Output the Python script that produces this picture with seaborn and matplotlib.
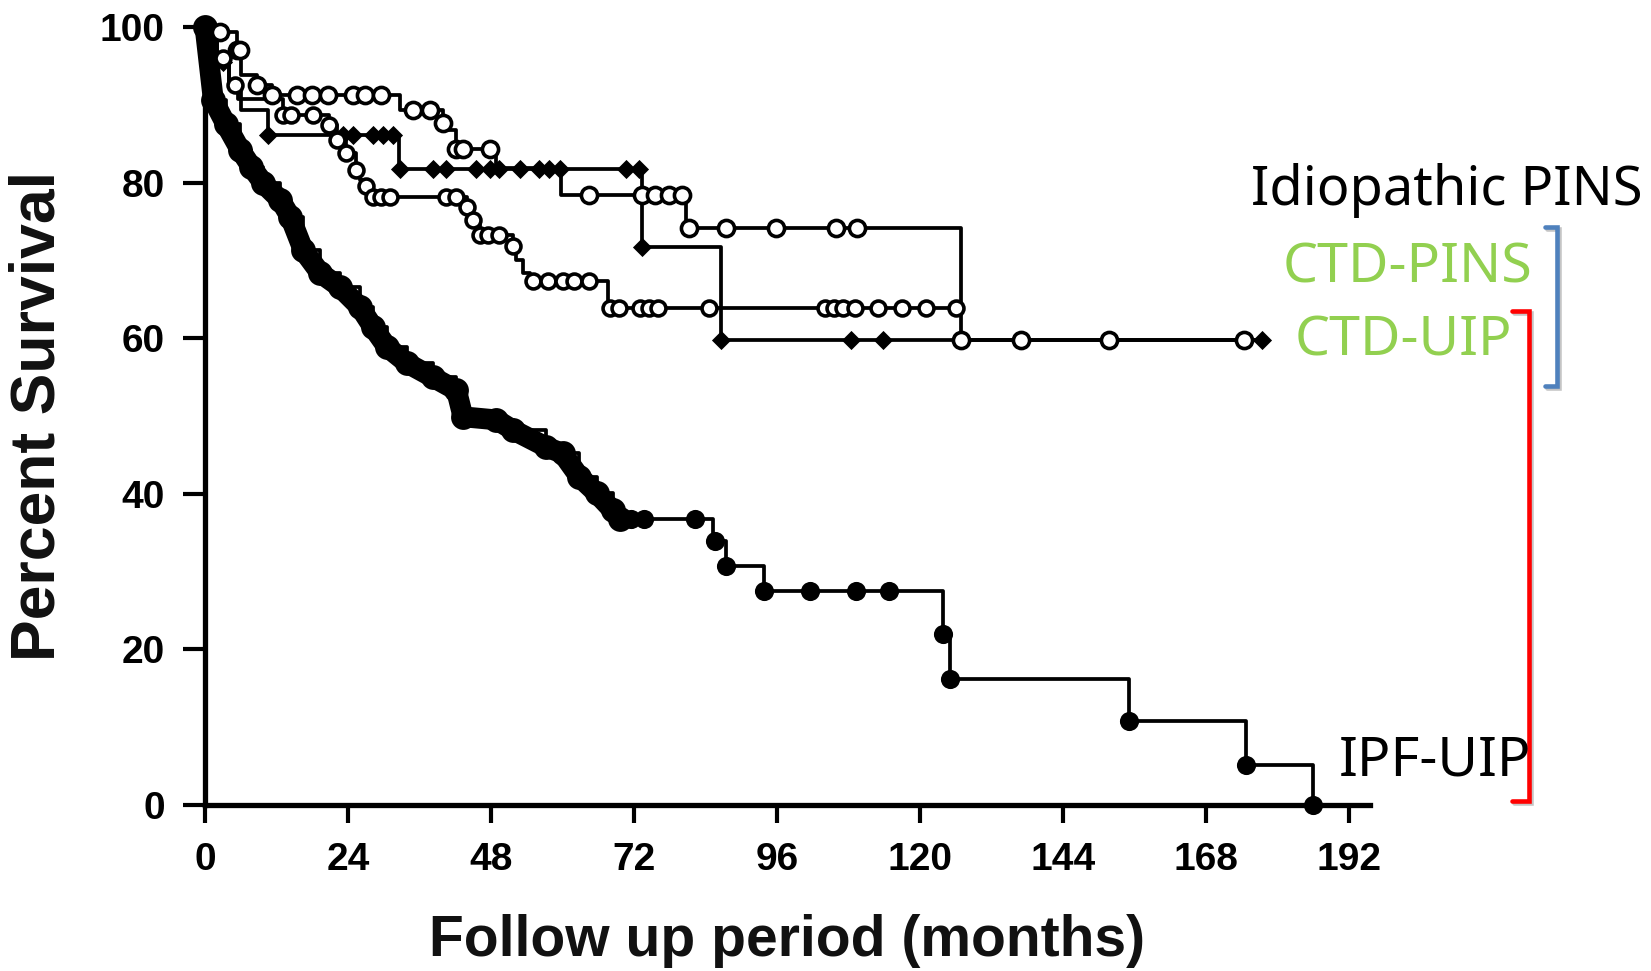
import numpy as np
import pandas as pd
import matplotlib
matplotlib.use("Agg")
import matplotlib.pyplot as plt
from matplotlib.lines import Line2D
import matplotlib.patheffects as pe
import seaborn as sns

# ---------------- data ----------------
x_ticks = [0, 24, 48, 72, 96, 120, 144, 168, 192]
y_ticks = [0, 20, 40, 60, 80, 100]

labels = ["Idiopathic PINS", "CTD-PINS", "CTD-UIP", "IPF-UIP"]

# IPF-UIP (thick curve, filled dots)
ipf_time = [0, 1.4, 3.5, 5.9, 7.8, 9.8, 12.6, 14.3, 16.5, 19.3, 22.6, 26, 28.2, 30.5,
            33.9, 38.2, 42.2, 43.3, 48.9, 51.7, 57.3, 60, 62.8, 65.7, 68.4, 69.6,
            85.2, 87.4, 93.8, 123.9, 125.1, 155.1, 174.7, 185.9]
ipf_surv = [100, 90.6, 87.5, 84.2, 82, 79.9, 77.8, 75.6, 71.3, 68.4, 66.6, 64, 61.4, 58.9,
            56.8, 55, 53.3, 49.9, 49.5, 48.2, 46, 45.2, 42.2, 40.1, 37.9, 36.8,
            33.9, 30.7, 27.5, 22.0, 16.2, 10.8, 5.1, 0]
ipf_censor = [71.5, 73.6, 82.2, 85.6, 87.4, 93.8, 101.5, 109.2, 114.8, 123.9, 125.1,
              155.1, 174.7, 185.9]
ipf_end = 185.9

# Upper open-circle curve
up_time = [0, 2.5, 5.3, 6.1, 8.7, 11.2, 32.7, 39.9, 40.5, 42.2, 48.9, 59.8, 80.8, 126.9]
up_surv = [100, 99.4, 97, 93.8, 92.5, 91.3, 89.3, 87.6, 86.7, 84.3, 81.9, 78.4, 74.2, 59.8]
up_censor = [2.5, 5.3, 5.9, 8.7, 11.2, 15.4, 17.9, 20.7, 24.8, 26.8, 29.6, 34.9, 37.7,
             39.9, 42.2, 43.3, 47.8, 64.5, 73.4, 75.5, 77.8, 80.1, 81.3, 87.5, 95.9,
             105.9, 109.4, 126.9, 137, 151.7, 174.3]
up_end = 176.0

# Lower open-circle curve
lo_time = [0, 2, 4, 5.6, 13.1, 20.8, 22.1, 23.7, 25.4, 26, 27.1, 28.2, 43.9, 45, 46.1,
           51.7, 52.2, 53.3, 54.5, 67.6]
lo_surv = [100, 96, 92.5, 90.8, 88.7, 87.4, 85.5, 83.8, 81.6, 80.3, 79.5, 78.1, 76.9, 75.2,
           73.3, 71.8, 70.1, 68.4, 67.3, 63.9]
lo_censor = [3, 5, 13.1, 14.5, 18.1, 20.8, 22.1, 23.7, 25.4, 27.1, 28.2, 29.5, 31, 40.5,
             42.2, 43.9, 45, 46.1, 47.5, 49.4, 51.7, 55, 57.5, 60, 62, 64.5, 68, 69.5,
             73, 74.5, 76, 84.6, 104, 105.5, 107, 109, 113, 117, 121, 126]
lo_end = 126.5

# Filled-dot curve
fd_time = [0, 2, 4, 6.1, 10.6, 32.6, 73.4, 86.6]
fd_surv = [100, 95.5, 92.5, 89.3, 86.1, 81.8, 71.7, 59.8]
fd_censor = [3, 10.6, 23.1, 24.8, 28.2, 29.8, 31.5, 32.7, 38.2, 40.5, 45.5, 47.8, 49.4,
             52.8, 56.1, 57.8, 59.5, 70.7, 72.9, 73.4, 86.6, 108.4, 113.7, 137, 177.3]
fd_end = 177.3

HEAVY_UNTIL = 70  # dense part of the IPF-UIP curve drawn as a heavy band

# ---------------- helpers ----------------
def extend(t, s, end):
    t2 = list(t) + ([end] if end > t[-1] else [])
    s2 = list(s) + ([s[-1]] if end > t[-1] else [])
    return t2, s2

def step_at(t, s, c):
    t = np.asarray(t); s = np.asarray(s)
    idx = np.searchsorted(t, np.asarray(c), side="right") - 1
    return s[np.clip(idx, 0, len(s) - 1)]

# ---------------- figure ----------------
sns.set_theme(style="ticks")
plt.rcParams["font.family"] = ["Liberation Sans", "DejaVu Sans"]

W, H = 1651, 971
fig = plt.figure(figsize=(W / 100, H / 100), dpi=100)
ax = fig.add_axes([205 / W, 1 - 805 / H, 1165 / W, 778 / H])

lw = 2.7
for t, s, end in [(up_time, up_surv, up_end), (lo_time, lo_surv, lo_end),
                  (fd_time, fd_surv, fd_end), (ipf_time, ipf_surv, ipf_end)]:
    te, se = extend(t, s, end)
    sns.lineplot(x=te, y=se, ax=ax, color="black", lw=lw, drawstyle="steps-post",
                 estimator=None, sort=False, clip_on=False, zorder=3)

# heavy IPF band
heavy_t = [a for a in ipf_time if a <= HEAVY_UNTIL]
heavy_s = ipf_surv[:len(heavy_t)]
sns.lineplot(x=heavy_t, y=heavy_s, ax=ax, color="black", lw=15,
             solid_joinstyle="round", solid_capstyle="round",
             estimator=None, sort=False, clip_on=False, zorder=4)
sns.scatterplot(x=heavy_t, y=heavy_s, ax=ax, color="black", s=320, marker="o",
                edgecolor="black", linewidth=0, clip_on=False, zorder=5)
sns.scatterplot(x=ipf_censor, y=step_at(ipf_time, ipf_surv, ipf_censor), ax=ax,
                color="black", s=190, marker="o", linewidth=0, clip_on=False, zorder=5)

# filled curve marks
sns.scatterplot(x=fd_censor, y=step_at(fd_time, fd_surv, fd_censor), ax=ax,
                color="black", s=95, marker="D", linewidth=0, clip_on=False, zorder=6)
# open-circle curves
sns.scatterplot(x=up_censor, y=step_at(up_time, up_surv, up_censor), ax=ax,
                facecolor="white", edgecolor="black", s=135, marker="o", linewidth=2.6,
                clip_on=False, zorder=7)
sns.scatterplot(x=lo_censor, y=step_at(lo_time, lo_surv, lo_censor), ax=ax,
                facecolor="white", edgecolor="black", s=115, marker="o", linewidth=2.6,
                clip_on=False, zorder=7)

# ---------------- axes styling ----------------
ax.set_xlim(0, 195.5)
ax.set_ylim(0, 100)
ax.set_xticks(x_ticks)
ax.set_yticks(y_ticks)
ax.set_xlabel("")
ax.set_ylabel("")
for side in ["top", "right"]:
    ax.spines[side].set_visible(False)
for side in ["left", "bottom"]:
    ax.spines[side].set_linewidth(3.8)
    ax.spines[side].set_color("black")
ax.tick_params(axis="y", length=16, width=3, direction="out", pad=13,
               labelsize=28, colors="black")
ax.tick_params(axis="x", length=13, width=3, direction="out", pad=14,
               labelsize=28, colors="black")
for lab in ax.get_xticklabels() + ax.get_yticklabels():
    lab.set_fontweight("bold")
ax.patch.set_alpha(0)

fig.text(38 / W, 1 - 416 / H, "Percent Survival", rotation=90, ha="center",
         va="center", fontsize=45, fontweight="bold", color="#111111")
fig.text(787 / W, 1 - 941 / H, "Follow up period (months)", ha="center",
         va="center", fontsize=41, fontweight="bold", color="#111111")

# ---------------- right-hand annotations ----------------
lab_font = ["Noto Sans", "DejaVu Sans"]
green = "#92D050"
fig.text(1642 / W, 1 - 205 / H, labels[0], ha="right", va="baseline", fontsize=39,
         family=lab_font, color="black")
fig.text(1283 / W, 1 - 282 / H, labels[1], ha="left", va="baseline", fontsize=40,
         family=lab_font, color=green)
fig.text(1295 / W, 1 - 355 / H, labels[2], ha="left", va="baseline", fontsize=40,
         family=lab_font, color=green)
fig.text(1339 / W, 1 - 775 / H, labels[3], ha="left", va="baseline", fontsize=40,
         family=lab_font, color="black")

shadow = [pe.SimpleLineShadow(offset=(1.5, -1.5), shadow_color="gray", alpha=0.45),
          pe.Normal()]

def bracket(x_in, x_v, y_top, y_bot, color):
    xs = np.array([x_in, x_v, x_v, x_in]) / W
    ys = 1 - np.array([y_top, y_top, y_bot, y_bot]) / H
    fig.add_artist(Line2D(xs, ys, transform=fig.transFigure, color=color, lw=3.3,
                          solid_joinstyle="miter", path_effects=shadow))

bracket(1545, 1557, 227, 386, "#4F81BD")
bracket(1512, 1529, 311, 801, "#FF0000")

fig.savefig("out.png", dpi=100, facecolor="white")
